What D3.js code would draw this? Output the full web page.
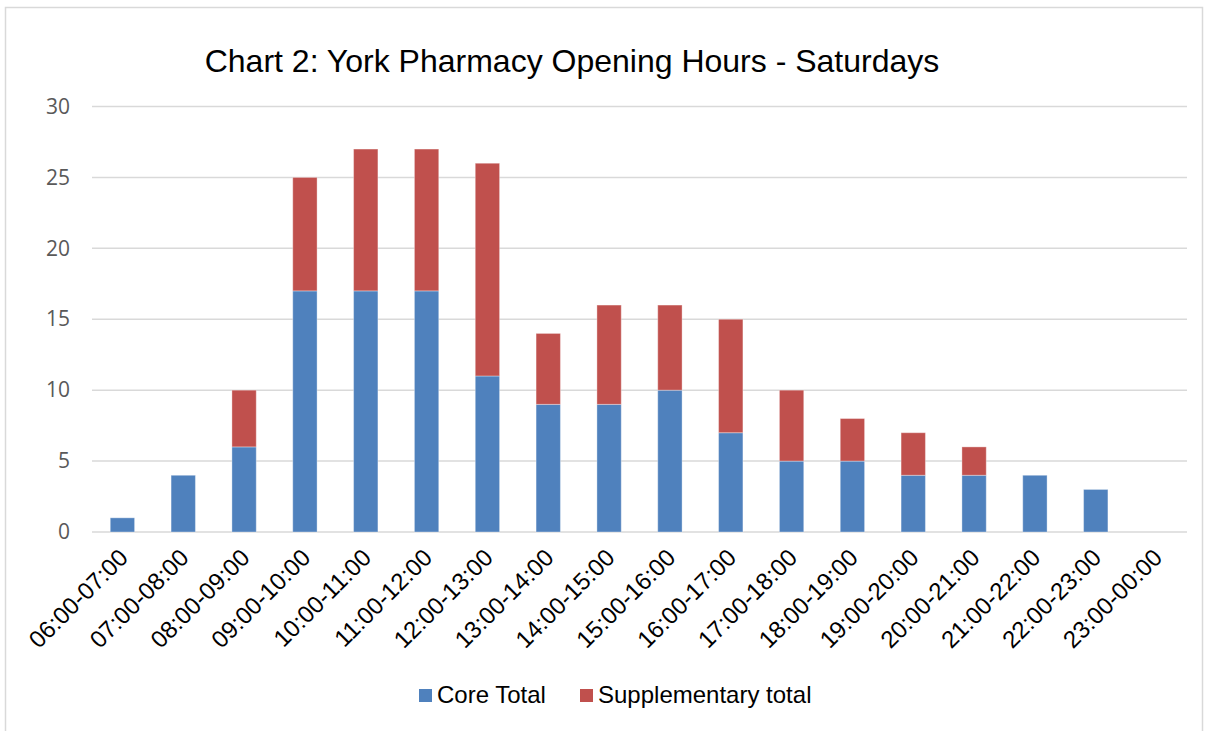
<!DOCTYPE html>
<html>
<head>
<meta charset="utf-8">
<script src="https://cdn.jsdelivr.net/npm/d3@7"></script>
<style>
  body { margin: 0; background: #fff; }
  svg { display: block; }
</style>
</head>
<body>
<svg id="chart" width="1208" height="731"></svg>
<script>
// data
var slots = ["06:00-07:00","07:00-08:00","08:00-09:00","09:00-10:00","10:00-11:00","11:00-12:00",
  "12:00-13:00","13:00-14:00","14:00-15:00","15:00-16:00","16:00-17:00","17:00-18:00",
  "18:00-19:00","19:00-20:00","20:00-21:00","21:00-22:00","22:00-23:00","23:00-00:00"];
var coreTotal = [1,4,6,17,17,17,11,9,9,10,7,5,5,4,4,4,3,0];
var suppTotal = [0,0,4,8,10,10,15,5,7,6,8,5,3,3,2,0,0,0];
var seriesNames = ["Core Total","Supplementary total"];
var colors = ["#4F81BD","#C0504D"];
var yTicks = [0,5,10,15,20,25,30];

var svg = d3.select("#chart");
var margin = {top: 106.5, right: 21, bottom: 199, left: 92};
var width = 1208 - margin.left - margin.right,
    height = 731 - margin.top - margin.bottom;

// outer chart border
svg.append("rect")
  .attr("x", 5.5).attr("y", 7.5)
  .attr("width", 1197).attr("height", 740)
  .attr("fill", "none").attr("stroke", "#d9d9d9").attr("stroke-width", 1.5);

var rows = slots.map(function(s, i) {
  return {slot: s, core: coreTotal[i], supp: suppTotal[i]};
});
var stack = d3.stack().keys(["core","supp"])(rows);

var x = d3.scaleBand().domain(slots).range([0, width]).paddingInner(0.6).paddingOuter(0.3);
var y = d3.scaleLinear().domain([0, 30]).range([height, 0]);

var g = svg.append("g").attr("transform", "translate(" + margin.left + "," + margin.top + ")");

// grid
g.append("g")
  .selectAll("line")
  .data(yTicks).enter()
  .append("line")
  .attr("x1", 0).attr("x2", width)
  .attr("y1", function(d) { return y(d); })
  .attr("y2", function(d) { return y(d); })
  .attr("stroke", "#d9d9d9").attr("stroke-width", 1.5);

var yAxis = g.append("g")
  .call(d3.axisLeft(y).tickValues(yTicks).tickSize(0).tickPadding(22));
yAxis.select(".domain").remove();
yAxis.selectAll("text")
  .attr("font-family", "'Open Sans', sans-serif")
  .attr("font-size", 21)
  .attr("fill", "#595959");

// bars
g.selectAll(".layer")
  .data(stack).enter()
  .append("g")
  .attr("class", "layer")
  .attr("fill", function(d, i) { return colors[i]; })
  .selectAll("rect")
  .data(function(d) { return d; }).enter()
  .append("rect")
  .filter(function(d) { return d[1] > d[0]; })
  .attr("x", function(d) { return x(d.data.slot); })
  .attr("width", x.bandwidth())
  .attr("y", function(d) { return y(d[1]); })
  .attr("height", function(d) { return y(d[0]) - y(d[1]); })
  .attr("stroke", "#ffffff").attr("stroke-opacity", 0.35).attr("stroke-width", 1);

// x axis
var xAxis = g.append("g")
  .attr("transform", "translate(0," + height + ")")
  .call(d3.axisBottom(x).tickSize(0).tickPadding(0));
xAxis.select(".domain").remove();
xAxis.selectAll("text")
  .attr("font-family", "'Liberation Sans', Arial, sans-serif")
  .attr("font-size", 24)
  .attr("fill", "#000")
  .attr("text-anchor", "end")
  .attr("dy", 0)
  .attr("transform", "translate(7,27) rotate(-45)");

// title
svg.append("text")
  .attr("x", 572).attr("y", 72)
  .attr("text-anchor", "middle")
  .attr("font-family", "'Liberation Sans', Arial, sans-serif")
  .attr("font-size", 32)
  .attr("fill", "#000")
  .text("Chart 2: York Pharmacy Opening Hours - Saturdays");

// legend
var legendX = [419, 580];
var legend = svg.append("g");
seriesNames.forEach(function(name, i) {
  legend.append("rect")
    .attr("x", legendX[i]).attr("y", 689)
    .attr("width", 13).attr("height", 13)
    .attr("fill", colors[i]);
  legend.append("text")
    .attr("x", legendX[i] + 18).attr("y", 703)
    .attr("font-family", "'Liberation Sans', Arial, sans-serif")
    .attr("font-size", 24)
    .attr("fill", "#000")
    .text(name);
});
</script>
</body>
</html>
